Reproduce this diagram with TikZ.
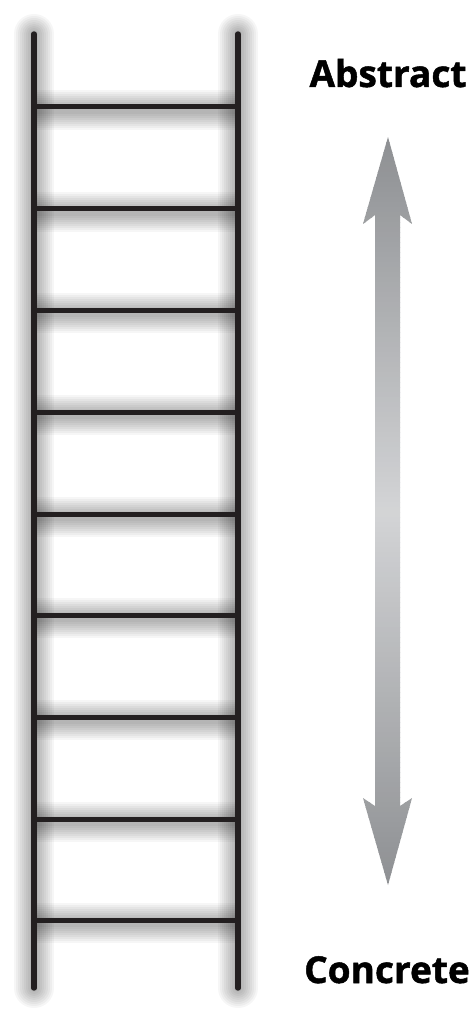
\documentclass[tikz,border=0pt]{standalone}
\usepackage{fontspec}
\setmainfont{Open Sans}[BoldFeatures={FakeBold=1.3}]
\definecolor{ladderblack}{HTML}{231F20}
\definecolor{arrowdark}{HTML}{8E9093}
\definecolor{arrowlight}{HTML}{D3D4D6}
\begin{document}
\begin{tikzpicture}[x=1pt,y=-1pt,
  rail/.style={line width=5.4pt, draw=ladderblack, line cap=round},
  rung/.style={line width=5pt, draw=ladderblack},
  glowrail/.style={line width=#1, draw=black, opacity=0.035, line cap=round},
  glowrung/.style={line width=#1, draw=black, opacity=0.035, line cap=butt},
  lbl/.style={font=\fontsize{37}{37}\selectfont\bfseries, text=black, inner sep=0pt, anchor=base}]
\useasboundingbox (0,0) rectangle (470,1024);
\fill[white] (0,0) rectangle (470,1024);
\coordinate (LT) at (34,34);
\coordinate (LB) at (34,988);
\coordinate (RT) at (238,34);
\coordinate (RB) at (238,988);
% soft shadow
\foreach \w in {8,12,16,20,24,28,32,36,40} {
  \begin{scope}[yshift=-3pt]
    \draw[glowrail=\w pt] (LT) -- (LB);
    \draw[glowrail=\w pt] (RT) -- (RB);
    \foreach \y in {107,209,310,412,514,615,717,819,920}
      \draw[glowrung=\w pt] (36,\y) -- (236,\y);
  \end{scope}
}
% rungs
\foreach \y in {107,209,310,412,514,615,717,819,920}
  \draw[rung] (34,\y) -- (238,\y);
% rails
\draw[rail] (LT) -- (LB);
\draw[rail] (RT) -- (RB);
% double arrow with vertical gradient
\begin{scope}
  \clip (388,137) -- (412,224) -- (400,215) -- (400,806) -- (412,798) -- (388,885)
    -- (363,798) -- (375,806) -- (375,215) -- (363,224) -- cycle;
  \foreach \i in {0,...,149} {
    \pgfmathsetmacro\p{100*(1-abs(\i-74.5)/74.5)}
    \fill[arrowlight!\p!arrowdark] (355,137+5*\i) rectangle (420,143+5*\i);
  }
\end{scope}
% labels
\node[lbl] (abstract) at (388,87) {Abstract};
\node[lbl] (concrete) at (387,983) {Concrete};
\end{tikzpicture}
\end{document}
